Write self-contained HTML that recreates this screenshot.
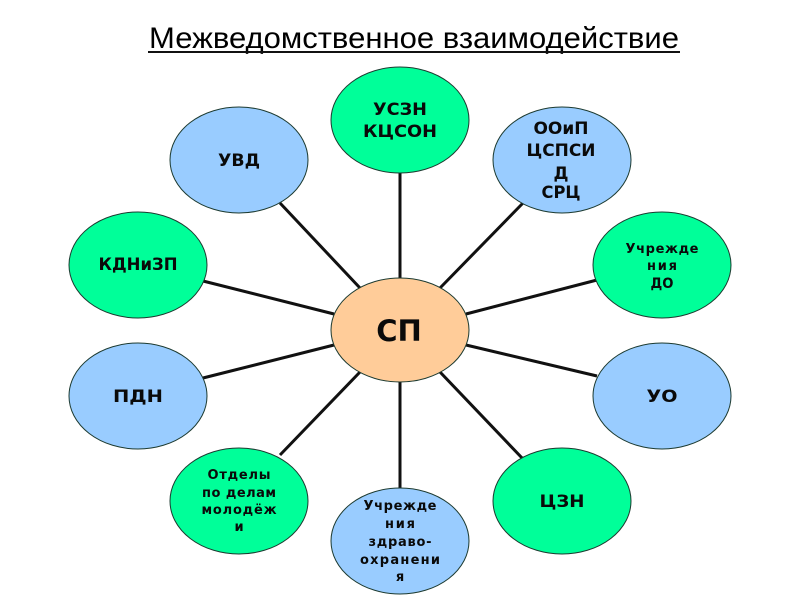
<!DOCTYPE html>
<html lang="ru"><head><meta charset="utf-8"><style>
html,body{margin:0;padding:0;background:#fff;width:800px;height:600px;overflow:hidden}
svg{display:block}
text{font-family:"DejaVu Sans",sans-serif;font-weight:bold;fill:#0a0a0a;text-anchor:middle}
.e{stroke:#1c3a30;stroke-width:1}
.g{fill:#00ff99}.b{fill:#99ccff}
.t{font-size:16.5px}
.s{font-size:13px}
</style></head><body>
<svg width="800" height="600" viewBox="0 0 800 600" xmlns="http://www.w3.org/2000/svg">
<text x="149" y="48" textLength="530" lengthAdjust="spacingAndGlyphs" style='font-family:"Liberation Sans",sans-serif;font-weight:normal;font-size:30px;fill:#000;text-anchor:start'>Межведомственное взаимодействие</text>
<rect x="148" y="51" width="532" height="2" fill="#111"/>
<g stroke="#111" stroke-width="3" fill="none">
<line x1="400" y1="172" x2="400" y2="280"/>
<line x1="523" y1="203" x2="440" y2="288"/>
<line x1="597" y1="280" x2="466" y2="314"/>
<line x1="597" y1="376" x2="466" y2="345"/>
<line x1="523" y1="459" x2="440" y2="372"/>
<line x1="400" y1="488" x2="400" y2="380"/>
<line x1="280" y1="455" x2="360" y2="372"/>
<line x1="203" y1="378" x2="334" y2="345"/>
<line x1="203" y1="281" x2="334" y2="314"/>
<line x1="280" y1="203" x2="360" y2="288"/>
</g>
<ellipse class="e" cx="400" cy="330" rx="69" ry="52" fill="#ffcc99"/>
<ellipse class="e g" cx="400" cy="120" rx="69" ry="53"/>
<ellipse class="e b" cx="562" cy="160" rx="69" ry="53"/>
<ellipse class="e g" cx="662" cy="265" rx="69" ry="53"/>
<ellipse class="e b" cx="662" cy="396" rx="69" ry="53"/>
<ellipse class="e g" cx="562" cy="501" rx="69" ry="53"/>
<ellipse class="e b" cx="400" cy="541" rx="69" ry="53"/>
<ellipse class="e g" cx="239" cy="501" rx="69" ry="53"/>
<ellipse class="e b" cx="138" cy="396" rx="69" ry="53"/>
<ellipse class="e g" cx="138" cy="265" rx="69" ry="53"/>
<ellipse class="e b" cx="239" cy="160" rx="69" ry="53"/>
<text x="399" y="341" style="font-size:29px">СП</text>
<text class="t" x="400" y="115" textLength="54" lengthAdjust="spacingAndGlyphs">УСЗН</text>
<text class="t" x="400" y="137" textLength="74" lengthAdjust="spacingAndGlyphs">КЦСОН</text>
<text class="t" x="561" y="134" textLength="55" lengthAdjust="spacingAndGlyphs">ООиП</text>
<text class="t" x="561" y="156" textLength="69" lengthAdjust="spacingAndGlyphs">ЦСПСИ</text>
<text class="t" x="561" y="179" textLength="15" lengthAdjust="spacingAndGlyphs">Д</text>
<text class="t" x="561" y="198" textLength="39" lengthAdjust="spacingAndGlyphs">СРЦ</text>
<text class="s" x="662" y="253" textLength="73">Учрежде</text>
<text class="s" x="662" y="270" textLength="30">ния</text>
<text class="t" x="662" y="288" style="font-size:14px" textLength="23" lengthAdjust="spacingAndGlyphs">ДО</text>
<text class="t" x="662" y="402" textLength="31" lengthAdjust="spacingAndGlyphs">УО</text>
<text class="t" x="562" y="507" textLength="45" lengthAdjust="spacingAndGlyphs">ЦЗН</text>
<text class="s" x="400" y="510" textLength="73">Учрежде</text>
<text class="s" x="400" y="528" textLength="30">ния</text>
<text class="s" x="400" y="546" textLength="63">здраво-</text>
<text class="s" x="400" y="564" textLength="80">охранени</text>
<text class="s" x="400" y="581">я</text>
<text class="s" x="239" y="479" textLength="63">Отделы</text>
<text class="s" x="239" y="497" textLength="74">по делам</text>
<text class="s" x="239" y="514" textLength="75">молодёж</text>
<text class="s" x="239" y="531">и</text>
<text class="t" x="138" y="402" textLength="50" lengthAdjust="spacingAndGlyphs">ПДН</text>
<text class="t" x="138" y="270" textLength="79" lengthAdjust="spacingAndGlyphs">КДНиЗП</text>
<text class="t" x="239" y="166" textLength="42" lengthAdjust="spacingAndGlyphs">УВД</text>
</svg>
</body></html>
